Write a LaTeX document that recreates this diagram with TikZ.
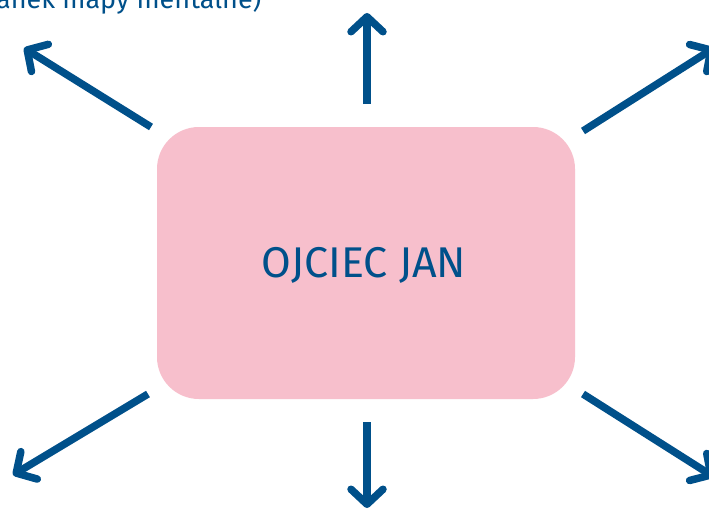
\documentclass[tikz,border=0pt]{standalone}
\usepackage{fontspec}
\setmainfont{Fira Sans}
\usetikzlibrary{arrows.meta}
\definecolor{arrowblue}{HTML}{00508A}
\definecolor{boxpink}{HTML}{F7BFCC}
\begin{document}
\begin{tikzpicture}[x=1pt,y=-1pt,
  arr/.style={draw=arrowblue, line width=7.5pt, -{Straight Barb[length=15pt,width=32pt,round]}},
  mainbox/.style={fill=boxpink, rounded corners=42pt, minimum width=418pt, minimum height=272pt, inner sep=0pt},
  lbl/.style={text=arrowblue, font=\fontsize{43}{46}\selectfont}]
\useasboundingbox (0,0) rectangle (709,511);
\clip (0,0) rectangle (709,511);
\fill[white] (0,0) rectangle (709,511);
\node[anchor=base west, text=arrowblue, font=\fontsize{27}{30}\selectfont, inner sep=0pt] (cap) at (-4,9) {anek mapy mentalne)};
\node[mainbox] (box) at (366,263) {};
\node[lbl] (t) at (364,265) {OJCIEC JAN};
\coordinate (s1) at (367,104); \coordinate (e1) at (367,13);
\coordinate (s2) at (367,422); \coordinate (e2) at (367,508);
\coordinate (s3) at (151,127); \coordinate (e3) at (24,48);
\coordinate (s4) at (583,131); \coordinate (e4) at (714,48);
\coordinate (s5) at (148,394); \coordinate (e5) at (13,475);
\coordinate (s6) at (583,394); \coordinate (e6) at (714,477);
\draw[arr] (s1) -- (e1);
\draw[arr] (s2) -- (e2);
\draw[arr] (s3) -- (e3);
\draw[arr] (s4) -- (e4);
\draw[arr] (s5) -- (e5);
\draw[arr] (s6) -- (e6);
\end{tikzpicture}
\end{document}
